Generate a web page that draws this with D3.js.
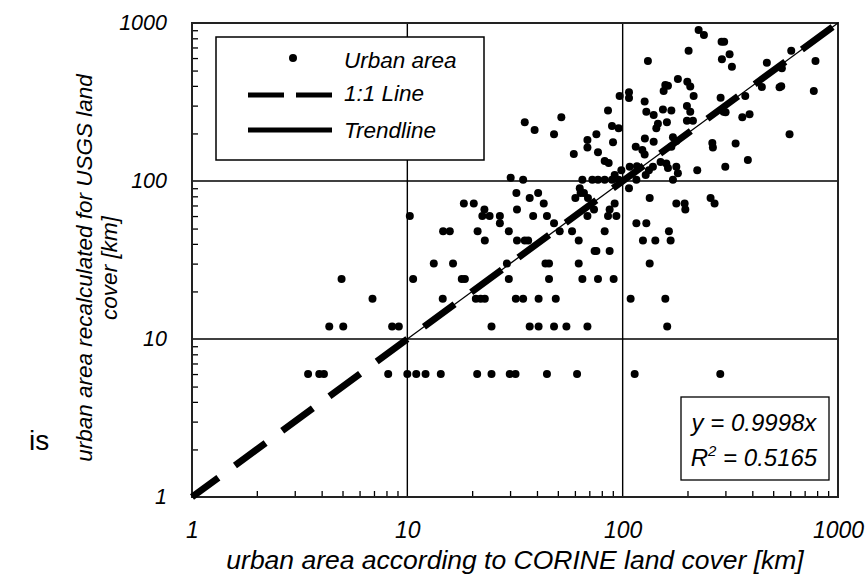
<!DOCTYPE html>
<html><head><meta charset="utf-8">
<script src="https://cdn.jsdelivr.net/npm/d3@7/dist/d3.min.js"></script>
<style>
body{margin:0;background:#fff}
text{font-family:"Liberation Sans",Arial,sans-serif}
</style>
</head><body>
<svg id="chart" width="867" height="574"></svg>
<script>
// ---- data ----
// CORINE urban area [km] (x) and USGS recalculated urban area [km] (y), paired by index
const corine = [
  3.46,3.9,4.1,8.15,10.0,11.0,12.15,14.3,21.1,24.6,29.9,31.8,44.5,61.4,113.7,284,
  4.34,5.04,8.5,9.13,24.6,37.0,40.7,48.0,54.8,68.6,161,
  6.89,14.6,20.8,21.9,22.9,31.9,34.5,40.7,48.9,108.9,157.8,
  4.95,10.64,17.9,18.5,29.6,45.5,65.0,76.8,90.8,
  13.27,16.3,29.0,43.8,45.5,62.5,133.5,
  74.1,75.5,87.0,
  22.9,32.3,35.1,36.4,62.5,124.2,141.8,167,
  14.66,15.75,21.2,29.6,51.0,58.2,82.5,164,
  26.9,48.0,115.8,128.8,
  10.27,22.3,24.1,26.9,38.4,44.5,68.6,85.5,93.5,
  22.8,32.3,73.6,87.0,195.4,
  18.3,20.35,43.0,91.8,177.5,194,267.2,
  37.0,60.3,69.0,133.5,256,
  32.1,40.5,63.8,66.1,
  107,63.2,
  34.5,65,72.3,76.8,82.5,89.2,95.8,115.8,171.2,
  30.2,91.8,127.9,98.6,180.5,222,132.4,
  107.8,116.5,177.5,138.2,162.3,299.6,
  82.5,86.1,150,159.5,381.4,
  59.3,126.5,76.8,123.4,
  68.6,115,168.3,262.4,
  68.6,90.2,126.8,139.3,177.5,171.2,260.8,334.6,
  48,75.5,595.6,39,95.8,143.3,89.2,
  35.1,145.8,160.5,198.8,212,51.9,359.4,
  139.3,388.4,128.8,206,294.2,300.6,85.5,168.3,153.8,198.8,
  126.5,107,285,96.8,213.6,371,107,155,772,
  443,535.3,545,206,162.3,157.8,199.6,180.5,
  548.6,321.6,467.3,131,786,289,313.7,202.4,606.5,288,296,238.4,225.3
];
const usgs = [
  6,6,6,6,6,6,6,6,6,6,6,6,6,6,6,6,
  12,12,12,12,12,12,12,12,12,12,12,
  18,18,18,18,18,18,18,18,18,18,18,
  24,24,24,24,24,24,24,24,24,
  30,30,30,30,30,30,30,
  36,36,36,
  42,42,42,42,42,42,42,42,
  48,48,48,48,48,48,48,48,
  54,54,54,54,
  60,60,60,60,60,60,60,60,60,
  66,66,66,66,66,
  72,72,72,72,72,72,72,
  78,78,78,78,78,
  84,84,84,84,
  90,90,
  102,102,102,102,102,102,102,102,102,
  105,109,109,117,112,117,117,
  123,124,123,123,121,123,
  134,130,132,129,136,
  148,147,152,157,
  163,165,165,163,
  182,176,186,177,179,189,174,173,
  198,198,198,210,216,216,223,
  235,230,235,241,241,253,253,
  262,265,274,274,274,272,279,279,284,298,
  318,335,337,345,345,345,364,371,371,
  394,392,398,396,400,405,425,442,
  517,529,561,575,575,589,634,668,668,761,761,839,903
];
const axisValues = [1, 10, 100, 1000];
const axisLabels = ["1", "10", "100", "1000"];
const slope = 0.9998;
const rSquared = "0.5165";
const legendLabels = ["Urban area", "1:1 Line", "Trendline"];
const xTitle = "urban area according to CORINE land cover [km]";
const yTitle = ["urban area recalculated for USGS land", "cover [km]"];
const sideText = "is";

// ---- layout ----
const svg = d3.select("#chart");
const L = 192, R = 838, T = 23, B = 497;
const x = d3.scaleLog().domain([1, 1000]).range([L, R]);
const y = d3.scaleLog().domain([1, 1000]).range([B, T]);

const minor = [];
[1, 10, 100].forEach(d => { for (let k = 2; k <= 9; k++) minor.push(d * k); });

// grid lines at the inner decades
const inner = axisValues.slice(1, -1);
svg.append("g").selectAll("line.gx").data(inner).join("line")
  .attr("x1", d => x(d)).attr("x2", d => x(d)).attr("y1", T).attr("y2", B)
  .attr("stroke", "#000").attr("stroke-width", 1.4);
svg.append("g").selectAll("line.gy").data(inner).join("line")
  .attr("y1", d => y(d)).attr("y2", d => y(d)).attr("x1", L).attr("x2", R)
  .attr("stroke", "#000").attr("stroke-width", 1.4);

// minor ticks (inward)
const gxm = svg.append("g").attr("transform", `translate(0,${B})`)
  .call(d3.axisBottom(x).tickValues(minor).tickSize(-6).tickFormat(""));
const gym = svg.append("g").attr("transform", `translate(${L},0)`)
  .call(d3.axisLeft(y).tickValues(minor).tickSize(-6).tickFormat(""));
[gxm, gym].forEach(g => {
  g.select(".domain").remove();
  g.selectAll("line").attr("stroke", "#000").attr("stroke-width", 1.3);
});

// tick labels
const gxl = svg.append("g").attr("transform", `translate(0,${B})`)
  .call(d3.axisBottom(x).tickValues(axisValues).tickSize(0).tickPadding(25)
    .tickFormat((d, i) => axisLabels[i]));
const gyl = svg.append("g").attr("transform", `translate(${L},0)`)
  .call(d3.axisLeft(y).tickValues(axisValues).tickSize(0).tickPadding(25)
    .tickFormat((d, i) => axisLabels[i]));
[[gxl, 23], [gyl, 21.5]].forEach(([g, fs]) => {
  g.select(".domain").remove();
  g.selectAll("text").attr("font-size", fs).attr("font-style", "italic")
    .attr("fill", "#000").attr("font-family", '"Liberation Sans", Arial, sans-serif');
});

// frame
svg.append("rect").attr("x", L).attr("y", T).attr("width", R - L).attr("height", B - T)
  .attr("fill", "none").attr("stroke", "#222").attr("stroke-width", 2);

// points
const pts = corine.map((c, i) => [c, usgs[i]]);
svg.append("g").selectAll("circle").data(pts).join("circle")
  .attr("cx", d => x(d[0])).attr("cy", d => y(d[1])).attr("r", 4).attr("fill", "#000");

// trendline and 1:1 line
const line = d3.line().x(d => x(d[0])).y(d => y(d[1]));
svg.append("path").datum([[10, 10 * slope], [1000, 1000 * slope]]).attr("d", line)
  .attr("stroke", "#000").attr("stroke-width", 1.3).attr("fill", "none");
svg.append("path").datum([[1, 1], [1000, 1000]]).attr("d", line)
  .attr("stroke", "#000").attr("stroke-width", 6.8).attr("fill", "none")
  .attr("stroke-dasharray", "38,20.6").attr("stroke-dashoffset", 5.3);

// legend
const lg = svg.append("g");
lg.append("rect").attr("x", 216).attr("y", 37).attr("width", 268).attr("height", 123)
  .attr("fill", "#fff").attr("stroke", "#000").attr("stroke-width", 1.5);
lg.append("circle").attr("cx", 293).attr("cy", 58).attr("r", 4).attr("fill", "#000");
lg.append("line").attr("x1", 248).attr("x2", 332).attr("y1", 95).attr("y2", 95)
  .attr("stroke", "#000").attr("stroke-width", 5).attr("stroke-dasharray", "36,12");
lg.append("line").attr("x1", 248).attr("x2", 332).attr("y1", 130).attr("y2", 130)
  .attr("stroke", "#000").attr("stroke-width", 5);
lg.selectAll("text").data(legendLabels).join("text")
  .attr("x", 344).attr("y", (d, i) => [68, 101, 138][i])
  .attr("font-size", 22.5).attr("font-style", "italic").text(d => d);

// equation box
const eq = svg.append("g");
eq.append("rect").attr("x", 681).attr("y", 397).attr("width", 148).attr("height", 83)
  .attr("fill", "#fff").attr("stroke", "#000").attr("stroke-width", 1.3);
eq.append("text").attr("x", 754).attr("y", 431).attr("text-anchor", "middle")
  .attr("font-size", 24).attr("font-style", "italic").text(`y = ${slope}x`);
const r2 = eq.append("text").attr("x", 754).attr("y", 466).attr("text-anchor", "middle")
  .attr("font-size", 24).attr("font-style", "italic");
r2.append("tspan").text("R");
r2.append("tspan").attr("dy", -10).attr("font-size", 15).text("2");
r2.append("tspan").attr("dy", 10).text(` = ${rSquared}`);

// axis titles
svg.append("text").attr("x", 515).attr("y", 569).attr("text-anchor", "middle")
  .attr("font-size", 26.5).attr("font-style", "italic").text(xTitle);
const yt = svg.append("text").attr("transform", "translate(92,268) rotate(-90)")
  .attr("text-anchor", "middle").attr("font-size", 22.5).attr("font-style", "italic");
yt.selectAll("tspan").data(yTitle).join("tspan")
  .attr("x", 0).attr("dy", (d, i) => i === 0 ? 0 : 25).text(d => d);

svg.append("text").attr("x", 29).attr("y", 450).attr("font-size", 28).text(sideText);
</script>
</body></html>
